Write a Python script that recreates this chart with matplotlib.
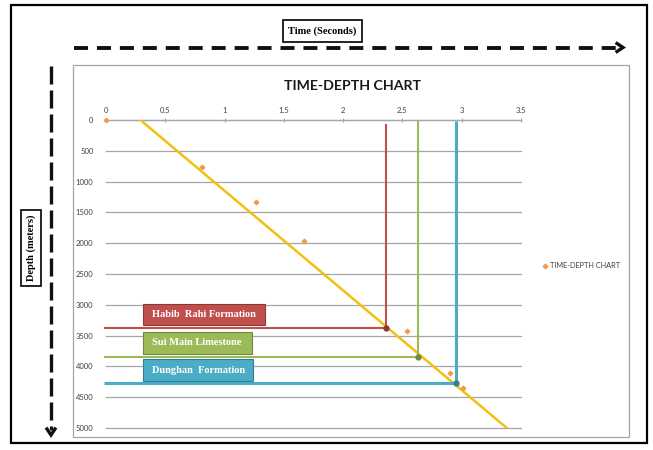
import matplotlib.pyplot as plt
from matplotlib.patches import Rectangle

# data
time_s = [0.0, 0.81, 1.265, 1.67, 2.54, 2.90, 3.01]
depth_m = [0, 770, 1335, 1965, 3425, 4105, 4350]

trend_t = [0.29, 3.38]
trend_d = [0, 5000]

formations = ['Habib  Rahi Formation', 'Sui Main Limestone', 'Dunghan  Formation']
form_time = [2.358, 2.634, 2.951]
form_depth = [3372, 3842, 4275]
form_top = [70, 20, 20]
form_colors = ['#C0504D', '#9BBB59', '#4BACC6']
form_edge = ['#8C3836', '#71893F', '#357D91']
form_lw = [1.5, 1.5, 2.2]
# label boxes: top/bottom depth, width in time units
box_top = [2985, 3440, 3880]
box_bot = [3330, 3800, 4240]
box_w = [1.03, 0.92, 0.93]

xticks = [0, 0.5, 1, 1.5, 2, 2.5, 3, 3.5]
yticks = list(range(0, 5001, 500))

W, H = 653, 450
fig = plt.figure(figsize=(W / 100, H / 100), dpi=100)

# overlay for frame, arrows and outside labels (pixel coords)
ov = fig.add_axes([0, 0, 1, 1])
ov.set_xlim(0, W)
ov.set_ylim(H, 0)
ov.axis('off')
ov.add_patch(Rectangle((11, 5), 636, 438, fill=False, ec='black', lw=1.6))
ov.add_patch(Rectangle((73, 65), 556, 372, fill=False, ec='#A6A6A6', lw=0.9))

# horizontal dashed arrow
ov.plot([74, 618], [47.5, 47.5], color='#111111', lw=2.8, linestyle=(0, (3.6, 2.3)))
ov.plot([617, 623, 617], [43.5, 47.5, 51.5], color='#111111', lw=2.4, solid_joinstyle='miter')
# vertical dashed arrow
ov.plot([51, 51], [66, 430], color='#111111', lw=2.4, linestyle=(0, (5.4, 1.8)))
ov.plot([47, 51, 55], [429, 435, 429], color='#111111', lw=2.4, solid_joinstyle='miter')

ov.text(322.5, 31, 'Time (Seconds)', ha='center', va='center', fontsize=7.5,
        family='Liberation Serif', fontweight='bold',
        bbox=dict(boxstyle='square,pad=0.55', fc='white', ec='black', lw=1.2))
ov.text(31, 248, 'Depth (meters)', ha='center', va='center', fontsize=7.5, rotation=90,
        family='Liberation Serif', fontweight='bold',
        bbox=dict(boxstyle='square,pad=0.5', fc='white', ec='black', lw=1.2))

ov.text(353, 86, 'TIME-DEPTH CHART', ha='center', va='center', fontsize=10.2,
        family='Lato', fontweight='bold', color='#1A1A1A')

# main chart
ax = fig.add_axes([106 / W, 1 - 428 / H, 415 / W, 308 / H])
ax.set_xlim(0, 3.5)
ax.set_ylim(5000, 0)
ax.xaxis.tick_top()
ax.set_xticks(xticks)
ax.set_xticklabels([f'{t:g}' for t in xticks])
ax.set_yticks(yticks)
ax.set_yticklabels([str(v) for v in yticks])
for s in ['left', 'right', 'bottom']:
    ax.spines[s].set_visible(False)
ax.spines['top'].set_color('#A6A6A6')
ax.spines['top'].set_linewidth(0.9)
ax.tick_params(axis='x', direction='inout', length=3, color='#A6A6A6', labelsize=5.5,
               labelcolor='#404040', pad=3)
ax.tick_params(axis='y', length=0, labelsize=5.5, labelcolor='#404040', pad=9)
for lab in ax.get_xticklabels() + ax.get_yticklabels():
    lab.set_family('Lato')
ax.grid(axis='y', color='#A6A6A6', lw=0.9)
for gl in ax.get_ygridlines():
    gl.set_clip_on(False)
ax.set_axisbelow(True)
ax.patch.set_alpha(0)

ax.plot(trend_t, trend_d, color='#F2C00F', lw=1.8, zorder=3)

for i in range(len(formations)):
    c = form_colors[i]
    ax.plot([form_time[i], form_time[i]], [form_top[i], form_depth[i]], color=c,
            lw=form_lw[i], zorder=4, solid_capstyle='butt')
    ax.plot([-0.02, form_time[i]], [form_depth[i], form_depth[i]], color=c,
            lw=form_lw[i], zorder=4, clip_on=False, solid_capstyle='butt')
    ax.plot(form_time[i], form_depth[i], 'o', ms=3.5, color=form_edge[i], zorder=5)
    ax.add_patch(Rectangle((0.31, box_top[i]), box_w[i], box_bot[i] - box_top[i],
                           fc=c, ec=form_edge[i], lw=0.8, zorder=5))
    ax.text(0.39, (box_top[i] + box_bot[i]) / 2, formations[i], ha='left', va='center',
            color='white', fontsize=7.5, family='Liberation Serif', fontweight='bold',
            zorder=6)

ax.scatter(time_s, depth_m, marker='D', s=5, color='#F79646', zorder=6, clip_on=False,
           label='TIME-DEPTH CHART')

ov.scatter([545], [266], marker='D', s=5, color='#F79646')
ov.text(550, 266, 'TIME-DEPTH CHART', ha='left', va='center', fontsize=5.3,
        family='Lato', color='#404040')

fig.savefig('out.png', dpi=100)
